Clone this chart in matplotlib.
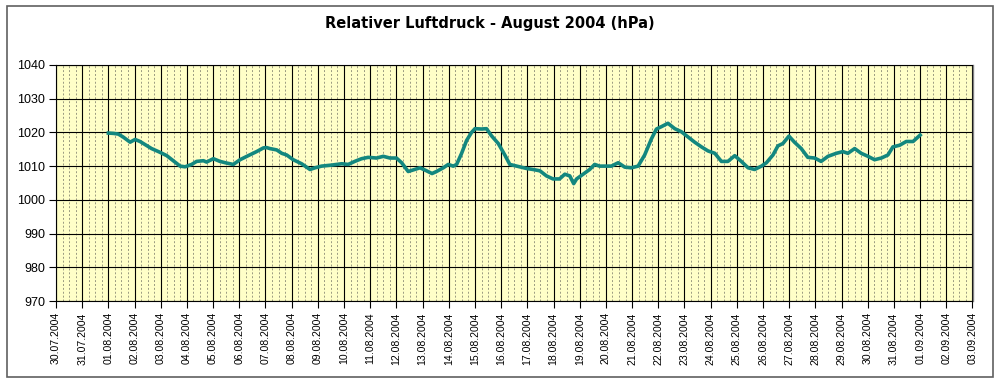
import matplotlib
matplotlib.use("Agg")
import matplotlib.pyplot as plt
import matplotlib.dates as mdates
from matplotlib.patches import Rectangle
import pandas as pd

# ---- data (days after 01.08.2004 00:00, relative air pressure hPa) ----
day_offsets = [0.0, 0.2, 0.38, 0.57, 0.83, 1.02, 1.21, 1.4, 1.65, 1.97, 2.23, 2.48, 2.74, 2.93,
               3.18, 3.37, 3.63, 3.75, 4.01, 4.26, 4.52, 4.77, 5.03, 5.34, 5.66, 5.92, 6.04, 6.17,
               6.43, 6.62, 6.81, 7.06, 7.38, 7.7, 7.89, 8.14, 8.52, 8.91, 9.16, 9.41, 9.67, 9.92,
               10.24, 10.5, 10.75, 11.0, 11.2, 11.45, 11.7, 11.9, 12.1, 12.36, 12.53, 12.79, 12.98,
               13.17, 13.3, 13.49, 13.68, 13.87, 14.0, 14.25, 14.44, 14.63, 14.89, 15.14, 15.33,
               15.59, 15.97, 16.22, 16.48, 16.73, 16.98, 17.23, 17.43, 17.62, 17.77, 17.88, 18.13,
               18.38, 18.57, 18.76, 18.96, 19.21, 19.47, 19.72, 19.97, 20.23, 20.48, 20.74, 20.93,
               21.12, 21.37, 21.63, 21.88, 22.14, 22.39, 22.65, 22.9, 23.16, 23.41, 23.66, 23.92,
               24.17, 24.43, 24.68, 24.94, 25.13, 25.38, 25.57, 25.76, 25.99, 26.2, 26.46, 26.71,
               26.97, 27.22, 27.48, 27.8, 28.05, 28.24, 28.5, 28.75, 29.01, 29.26, 29.52, 29.77,
               29.96, 30.22, 30.47, 30.73, 30.96, 31.0]
pressure_hpa = [1019.8, 1019.7, 1019.5, 1018.6, 1017.1, 1017.9, 1017.3, 1016.4, 1015.2, 1014.1,
                1013.1, 1011.6, 1010.0, 1009.8, 1010.5, 1011.4, 1011.6, 1011.2, 1012.2, 1011.4,
                1010.9, 1010.5, 1011.9, 1013.1, 1014.3, 1015.4, 1015.5, 1015.2, 1014.8, 1013.8,
                1013.3, 1011.9, 1010.7, 1009.0, 1009.5, 1010.0, 1010.3, 1010.7, 1010.5, 1011.4,
                1012.2, 1012.6, 1012.4, 1012.9, 1012.4, 1012.4, 1011.0, 1008.4, 1009.0, 1009.5,
                1008.8, 1007.8, 1008.4, 1009.5, 1010.5, 1010.0, 1010.5, 1013.8, 1017.6, 1020.0,
                1021.1, 1021.0, 1021.1, 1019.0, 1016.7, 1013.3, 1010.5, 1010.0, 1009.3, 1009.0,
                1008.6, 1007.1, 1006.2, 1006.2, 1007.6, 1007.1, 1004.8, 1006.2, 1007.6, 1009.0,
                1010.5, 1010.0, 1010.0, 1010.0, 1011.0, 1009.7, 1009.5, 1010.0, 1013.3, 1018.1,
                1021.0, 1021.7, 1022.7, 1021.1, 1020.2, 1018.6, 1017.1, 1015.7, 1014.5, 1013.8,
                1011.4, 1011.4, 1013.1, 1011.4, 1009.5, 1009.0, 1010.0, 1011.0, 1013.3, 1016.0,
                1016.7, 1018.9, 1017.1, 1015.2, 1012.6, 1012.4, 1011.4, 1012.9, 1013.8, 1014.3,
                1013.8, 1015.2, 1013.8, 1012.9, 1011.9, 1012.4, 1013.3, 1015.7, 1016.2, 1017.3,
                1017.3, 1018.9, 1019.2]
start_date = "2004-08-01"
x_start = "2004-07-30"
x_end = "2004-09-03"
y_ticks = [970, 980, 990, 1000, 1010, 1020, 1030, 1040]
title = "Relativer Luftdruck - August 2004 (hPa)"

times = pd.Timestamp(start_date) + pd.to_timedelta(day_offsets, unit="D")

plt.rcParams['font.family'] = ['Liberation Sans', 'DejaVu Sans']

fig = plt.figure(figsize=(10, 3.82), dpi=100)
fig.patch.set_facecolor("white")
ax = fig.add_axes([0.056, 0.212, 0.9165, 0.618])
ax.set_facecolor("#ffffc8")

ax.plot(times, pressure_hpa, color="#13877f", lw=2.6, solid_joinstyle="round", zorder=3)

ax.set_xlim(pd.Timestamp(x_start), pd.Timestamp(x_end))
ax.set_ylim(y_ticks[0], y_ticks[-1])
ax.set_yticks(y_ticks)

ax.xaxis.set_major_locator(mdates.DayLocator())
ax.xaxis.set_major_formatter(mdates.DateFormatter("%d.%m.%Y"))
ax.xaxis.set_minor_locator(mdates.HourLocator(byhour=[6, 12, 18]))

ax.grid(which="major", axis="both", color="black", lw=0.8, zorder=1)
ax.grid(which="minor", axis="x", color="#9a9a80", lw=0.7, ls=(0, (2, 2)), zorder=1)

ax.tick_params(axis="x", which="major", labelrotation=90, labelsize=7.6, length=5, width=0.8, pad=3)
ax.tick_params(axis="x", which="minor", length=0)
ax.tick_params(axis="y", labelsize=9, length=5, width=0.8, pad=3)

for s in ["left", "bottom", "top"]:
    ax.spines[s].set_color("black")
    ax.spines[s].set_linewidth(0.8)
ax.spines["right"].set_color("#808080")
ax.spines["right"].set_linewidth(1.0)

fig.text(0.49, 0.938, title, ha="center", va="center", fontsize=10.5, fontweight="bold",
         family="DejaVu Sans")

fig.patches.append(Rectangle((0.007, 0.013), 0.986, 0.972, transform=fig.transFigure,
                             fill=False, edgecolor="#606060", lw=1.2))

fig.savefig("out.png", dpi=100)
